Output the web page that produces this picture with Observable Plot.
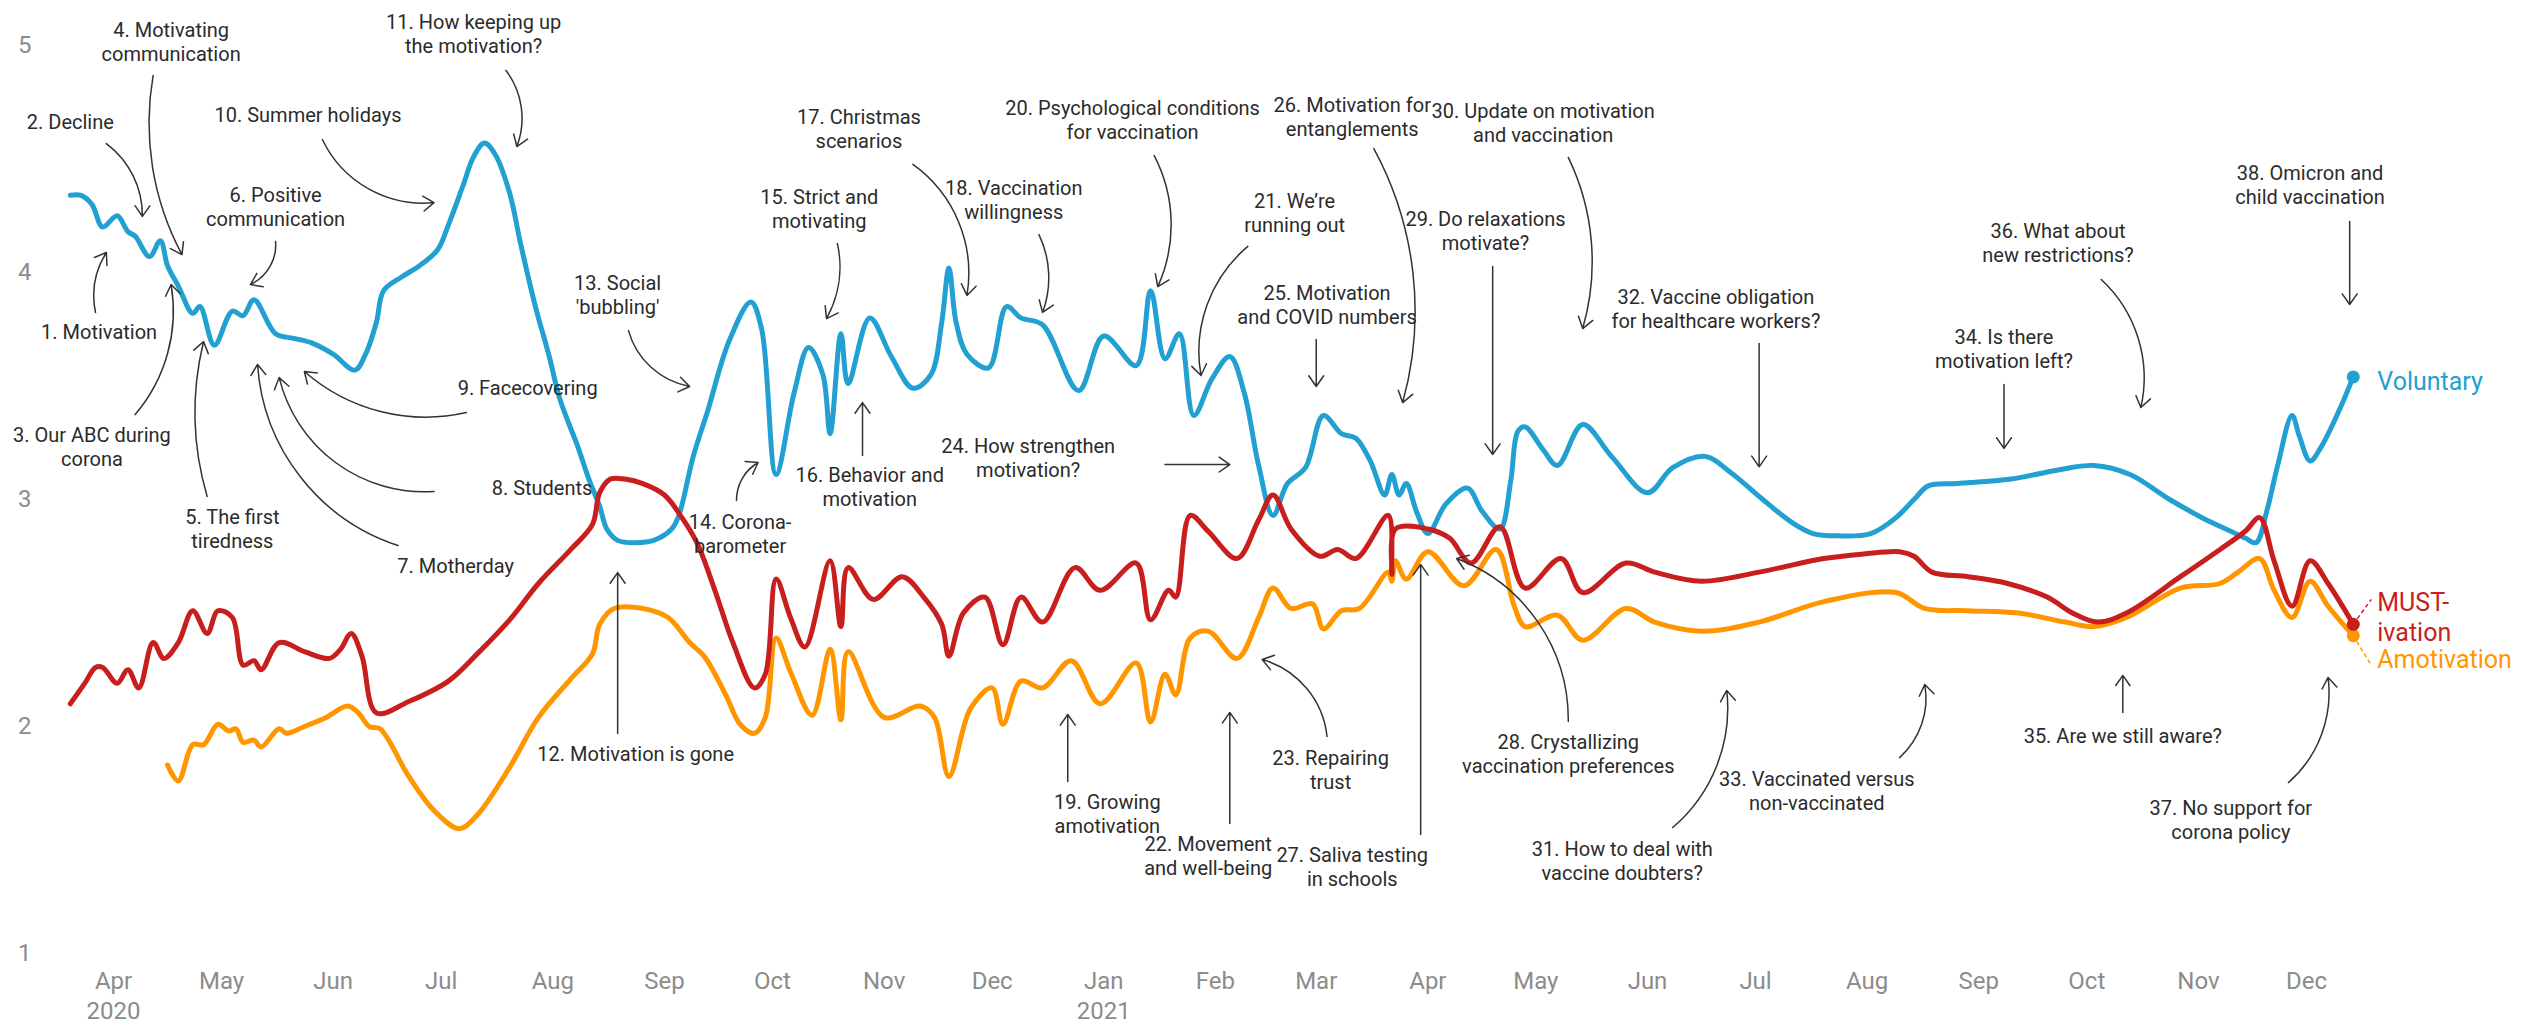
<!DOCTYPE html>
<html><head><meta charset="utf-8">
<script src="https://cdn.jsdelivr.net/npm/d3@7"></script>
<script src="https://cdn.jsdelivr.net/npm/@observablehq/plot@0.6"></script>
<style>html,body{margin:0;padding:0;background:#fff;} #chart{width:2525px;height:1029px;overflow:hidden}</style>
</head><body><div id="chart"></div>
<script>
const voluntary = [["2020-03-20",4.34],["2020-03-23",4.34],["2020-03-26",4.30],["2020-03-29",4.20],["2020-04-02",4.25],["2020-04-05",4.18],["2020-04-07",4.16],["2020-04-11",4.07],["2020-04-14",4.14],["2020-04-16",4.03],["2020-04-19",3.94],["2020-04-23",3.82],["2020-04-25",3.85],["2020-04-29",3.68],["2020-05-04",3.83],["2020-05-07",3.81],["2020-05-10",3.88],["2020-05-16",3.73],["2020-05-21",3.71],["2020-05-26",3.69],["2020-06-01",3.64],["2020-06-07",3.57],["2020-06-10",3.64],["2020-06-13",3.78],["2020-06-15",3.92],["2020-06-20",3.98],["2020-06-25",4.03],["2020-06-30",4.10],["2020-07-03",4.21],["2020-07-07",4.38],["2020-07-10",4.51],["2020-07-13",4.57],["2020-07-16",4.52],["2020-07-20",4.35],["2020-07-23",4.13],["2020-07-27",3.86],["2020-07-31",3.63],["2020-08-03",3.44],["2020-08-08",3.23],["2020-08-11",3.09],["2020-08-14",2.97],["2020-08-16",2.87],["2020-08-19",2.82],["2020-08-24",2.81],["2020-08-29",2.82],["2020-09-03",2.87],["2020-09-05",2.93],["2020-09-09",3.19],["2020-09-13",3.39],["2020-09-19",3.70],["2020-09-25",3.87],["2020-09-28",3.75],["2020-10-02",3.11],["2020-10-07",3.47],["2020-10-11",3.67],["2020-10-15",3.55],["2020-10-17",3.29],["2020-10-20",3.73],["2020-10-22",3.51],["2020-10-28",3.80],["2020-11-03",3.63],["2020-11-09",3.49],["2020-11-14",3.55],["2020-11-17",3.78],["2020-11-19",4.02],["2020-11-21",3.78],["2020-11-24",3.64],["2020-11-30",3.58],["2020-12-05",3.85],["2020-12-09",3.80],["2020-12-15",3.77],["2020-12-25",3.48],["2021-01-01",3.72],["2021-01-10",3.59],["2021-01-14",3.92],["2021-01-18",3.62],["2021-01-22",3.73],["2021-01-26",3.37],["2021-01-31",3.53],["2021-02-05",3.63],["2021-02-09",3.47],["2021-02-13",3.15],["2021-02-17",2.93],["2021-02-21",3.07],["2021-02-26",3.14],["2021-03-03",3.37],["2021-03-08",3.29],["2021-03-12",3.27],["2021-03-16",3.17],["2021-03-20",3.02],["2021-03-22",3.11],["2021-03-24",3.02],["2021-03-26",3.07],["2021-03-29",2.94],["2021-04-01",2.85],["2021-04-06",2.98],["2021-04-12",3.05],["2021-04-16",2.95],["2021-04-21",2.87],["2021-04-24",3.08],["2021-04-26",3.30],["2021-04-28",3.32],["2021-05-03",3.22],["2021-05-07",3.15],["2021-05-14",3.33],["2021-05-22",3.19],["2021-06-01",3.03],["2021-06-08",3.14],["2021-06-17",3.19],["2021-06-24",3.12],["2021-07-03",3.00],["2021-07-11",2.90],["2021-07-17",2.85],["2021-07-24",2.84],["2021-08-02",2.85],["2021-08-09",2.92],["2021-08-14",3.00],["2021-08-18",3.06],["2021-08-26",3.07],["2021-09-10",3.09],["2021-09-23",3.13],["2021-10-03",3.15],["2021-10-13",3.11],["2021-10-24",3.00],["2021-11-02",2.92],["2021-11-10",2.86],["2021-11-14",2.83],["2021-11-17",2.81],["2021-11-20",2.95],["2021-11-23",3.15],["2021-11-27",3.37],["2021-11-29",3.28],["2021-12-02",3.17],["2021-12-05",3.23],["2021-12-10",3.39],["2021-12-14",3.54]];

const mustivation = [["2020-03-20",2.10],["2020-03-24",2.19],["2020-03-27",2.26],["2020-03-29",2.26],["2020-04-02",2.19],["2020-04-05",2.25],["2020-04-08",2.17],["2020-04-12",2.37],["2020-04-15",2.30],["2020-04-19",2.37],["2020-04-23",2.51],["2020-04-27",2.41],["2020-04-30",2.51],["2020-05-04",2.48],["2020-05-07",2.27],["2020-05-10",2.29],["2020-05-12",2.25],["2020-05-17",2.37],["2020-05-24",2.33],["2020-05-31",2.30],["2020-06-03",2.34],["2020-06-06",2.41],["2020-06-09",2.31],["2020-06-13",2.06],["2020-06-22",2.11],["2020-07-03",2.20],["2020-07-11",2.32],["2020-07-20",2.47],["2020-07-28",2.63],["2020-08-06",2.78],["2020-08-12",2.89],["2020-08-14",3.03],["2020-08-17",3.09],["2020-08-21",3.09],["2020-08-26",3.07],["2020-09-01",3.02],["2020-09-05",2.94],["2020-09-10",2.81],["2020-09-15",2.60],["2020-09-20",2.37],["2020-09-26",2.17],["2020-09-29",2.23],["2020-10-02",2.65],["2020-10-06",2.48],["2020-10-10",2.35],["2020-10-17",2.73],["2020-10-20",2.44],["2020-10-22",2.70],["2020-10-29",2.56],["2020-11-06",2.66],["2020-11-12",2.57],["2020-11-17",2.45],["2020-11-19",2.31],["2020-11-23",2.50],["2020-11-29",2.57],["2020-12-04",2.36],["2020-12-09",2.57],["2020-12-15",2.46],["2020-12-24",2.70],["2020-12-31",2.60],["2021-01-10",2.72],["2021-01-14",2.47],["2021-01-19",2.60],["2021-01-21",2.57],["2021-01-25",2.93],["2021-01-30",2.86],["2021-02-07",2.74],["2021-02-13",2.91],["2021-02-17",3.02],["2021-02-22",2.87],["2021-03-02",2.75],["2021-03-07",2.78],["2021-03-12",2.74],["2021-03-21",2.93],["2021-03-22",2.67],["2021-03-23",2.87],["2021-04-01",2.87],["2021-04-07",2.83],["2021-04-13",2.72],["2021-04-21",2.88],["2021-04-28",2.61],["2021-05-08",2.74],["2021-05-14",2.59],["2021-05-26",2.72],["2021-06-03",2.68],["2021-06-16",2.64],["2021-07-02",2.68],["2021-07-20",2.74],["2021-07-31",2.76],["2021-08-10",2.77],["2021-08-14",2.75],["2021-08-19",2.68],["2021-08-29",2.66],["2021-09-09",2.63],["2021-09-20",2.57],["2021-09-27",2.50],["2021-10-04",2.46],["2021-10-12",2.50],["2021-10-27",2.66],["2021-11-07",2.78],["2021-11-14",2.86],["2021-11-18",2.92],["2021-11-22",2.73],["2021-11-27",2.53],["2021-12-02",2.73],["2021-12-07",2.63],["2021-12-14",2.45]];

const amotivation = [["2020-04-16",1.83],["2020-04-19",1.76],["2020-04-23",1.92],["2020-04-26",1.92],["2020-04-30",2.01],["2020-05-03",1.98],["2020-05-05",1.99],["2020-05-07",1.93],["2020-05-10",1.94],["2020-05-12",1.91],["2020-05-17",1.99],["2020-05-19",1.97],["2020-05-24",2.00],["2020-05-30",2.04],["2020-06-05",2.09],["2020-06-08",2.06],["2020-06-11",2.00],["2020-06-14",1.99],["2020-06-22",1.78],["2020-06-29",1.63],["2020-07-06",1.55],["2020-07-11",1.61],["2020-07-20",1.82],["2020-07-28",2.04],["2020-08-06",2.21],["2020-08-12",2.32],["2020-08-14",2.45],["2020-08-18",2.52],["2020-08-26",2.52],["2020-09-02",2.48],["2020-09-08",2.37],["2020-09-12",2.31],["2020-09-18",2.14],["2020-09-22",2.01],["2020-09-26",1.97],["2020-09-29",2.04],["2020-10-02",2.39],["2020-10-06",2.24],["2020-10-12",2.05],["2020-10-17",2.34],["2020-10-20",2.03],["2020-10-22",2.33],["2020-11-01",2.04],["2020-11-11",2.09],["2020-11-15",2.04],["2020-11-19",1.78],["2020-11-25",2.08],["2020-12-01",2.17],["2020-12-04",2.01],["2020-12-09",2.20],["2020-12-15",2.17],["2020-12-23",2.29],["2020-12-31",2.10],["2021-01-10",2.28],["2021-01-14",2.02],["2021-01-18",2.23],["2021-01-21",2.14],["2021-01-25",2.39],["2021-01-30",2.42],["2021-02-07",2.30],["2021-02-13",2.48],["2021-02-17",2.61],["2021-02-22",2.52],["2021-02-28",2.54],["2021-03-03",2.43],["2021-03-08",2.51],["2021-03-13",2.52],["2021-03-21",2.68],["2021-03-22",2.64],["2021-03-23",2.73],["2021-03-26",2.65],["2021-04-01",2.77],["2021-04-11",2.62],["2021-04-20",2.78],["2021-04-25",2.53],["2021-04-28",2.44],["2021-05-07",2.49],["2021-05-14",2.38],["2021-05-26",2.52],["2021-06-03",2.46],["2021-06-16",2.42],["2021-07-02",2.46],["2021-07-20",2.55],["2021-08-09",2.59],["2021-08-17",2.52],["2021-08-29",2.51],["2021-09-12",2.50],["2021-09-25",2.46],["2021-10-03",2.44],["2021-10-12",2.48],["2021-10-27",2.61],["2021-11-07",2.63],["2021-11-12",2.68],["2021-11-18",2.74],["2021-11-22",2.60],["2021-11-27",2.48],["2021-12-02",2.64],["2021-12-07",2.53],["2021-12-14",2.40]];

const yTicks = [1, 2, 3, 4, 5];
const monthTicks = d3.utcMonth.range(new Date("2020-04-01"), new Date("2022-01-01"));
const yearLabels = {"2020-04": "2020", "2021-01": "2021"};

// [text, date, value] — text block centres, in data coordinates
const notes = [
 ["1. Motivation", "2020-03-28", 3.74],
 ["2. Decline", "2020-03-20", 4.665],
 ["3. Our ABC during\ncorona", "2020-03-26", 3.233],
 ["4. Motivating\ncommunication", "2020-04-17", 5.018],
 ["5. The first\ntiredness", "2020-05-04", 2.872],
 ["6. Positive\ncommunication", "2020-05-16", 4.291],
 ["7. Motherday", "2020-07-05", 2.709],
 ["8. Students", "2020-07-29", 3.053],
 ["9. Facecovering", "2020-07-25", 3.493],
 ["10. Summer holidays", "2020-05-25", 4.696],
 ["11. How keeping up\nthe motivation?", "2020-07-10", 5.053],
 ["12. Motivation is gone", "2020-08-24", 1.881],
 ["13. Social\n'bubbling'", "2020-08-19", 3.903],
 ["14. Corona-\nbarometer", "2020-09-22", 2.85],
 ["15. Strict and\nmotivating", "2020-10-14", 4.282],
 ["16. Behavior and\nmotivation", "2020-10-28", 3.057],
 ["17. Christmas\nscenarios", "2020-10-25", 4.634],
 ["18. Vaccination\nwillingness", "2020-12-07", 4.322],
 ["19. Growing\namotivation", "2021-01-02", 1.617],
 ["20. Psychological conditions\nfor vaccination", "2021-01-09", 4.674],
 ["21. We\u2019re\nrunning out", "2021-02-23", 4.264],
 ["22. Movement\nand well-being", "2021-01-30", 1.432],
 ["23. Repairing\ntrust", "2021-03-05", 1.811],
 ["24. How strengthen\nmotivation?", "2020-12-11", 3.185],
 ["25. Motivation\nand COVID numbers", "2021-03-04", 3.859],
 ["26. Motivation for\nentanglements", "2021-03-11", 4.687],
 ["27. Saliva testing\nin schools", "2021-03-11", 1.383],
 ["28. Crystallizing\nvaccination preferences", "2021-05-10", 1.881],
 ["29. Do relaxations\nmotivate?", "2021-04-17", 4.185],
 ["30. Update on motivation\nand vaccination", "2021-05-03", 4.661],
 ["31. How to deal with\nvaccine doubters?", "2021-05-25", 1.41],
 ["32. Vaccine obligation\nfor healthcare workers?", "2021-06-20", 3.841],
 ["33. Vaccinated versus\nnon-vaccinated", "2021-07-18", 1.718],
 ["34. Is there\nmotivation left?", "2021-09-08", 3.665],
 ["35. Are we still aware?", "2021-10-11", 1.96],
 ["36. What about\nnew restrictions?", "2021-09-23", 4.132],
 ["37. No support for\ncorona policy", "2021-11-10", 1.59],
 ["38. Omicron and\nchild vaccination", "2021-12-02", 4.388]
];

// [date1, value1, date2, value2, bend]
const arrows = [
 ["2020-03-27",3.824,"2020-03-30",4.088,22],
 ["2020-03-30",4.568,"2020-04-09",4.247,27],
 ["2020-04-07",3.374,"2020-04-17",3.947,-25],
 ["2020-04-12",4.868,"2020-04-20",4.079,-19],
 ["2020-04-27",3.013,"2020-04-26",3.696,15],
 ["2020-05-16",4.137,"2020-05-09",3.947,35],
 ["2020-06-19",2.797,"2020-05-11",3.595,34],
 ["2020-06-29",3.035,"2020-05-17",3.537,40],
 ["2020-07-08",3.383,"2020-05-24",3.564,27],
 ["2020-05-29",4.586,"2020-06-29",4.308,-35],
 ["2020-07-19",4.89,"2020-07-22",4.555,29],
 ["2020-08-19",1.969,"2020-08-19",2.678,0],
 ["2020-08-22",3.744,"2020-09-08",3.498,-32],
 ["2020-09-21",2.996,"2020-09-27",3.163,30],
 ["2020-10-19",4.128,"2020-10-16",3.797,21],
 ["2020-10-26",3.194,"2020-10-26",3.427,0],
 ["2020-11-09",4.476,"2020-11-24",3.899,32],
 ["2020-12-14",4.167,"2020-12-15",3.824,23],
 ["2020-12-22",1.758,"2020-12-22",2.053,0],
 ["2021-01-15",4.515,"2021-01-16",3.938,26],
 ["2021-02-10",4.115,"2021-01-28",3.546,-30],
 ["2021-02-05",1.573,"2021-02-05",2.062,0],
 ["2021-03-04",1.956,"2021-02-14",2.295,-34],
 ["2021-01-18",3.154,"2021-02-05",3.154,0],
 ["2021-03-01",3.705,"2021-03-01",3.498,0],
 ["2021-03-17",4.546,"2021-03-25",3.427,22],
 ["2021-03-30",1.524,"2021-03-30",2.714,0],
 ["2021-05-10",2.022,"2021-04-09",2.74,-35],
 ["2021-04-19",4.026,"2021-04-19",3.198,0],
 ["2021-05-10",4.507,"2021-05-14",3.753,21],
 ["2021-06-08",1.555,"2021-06-23",2.159,-28],
 ["2021-07-02",3.687,"2021-07-02",3.144,0],
 ["2021-08-10",1.863,"2021-08-17",2.185,-29],
 ["2021-09-08",3.507,"2021-09-08",3.225,0],
 ["2021-10-11",2.062,"2021-10-11",2.225,0],
 ["2021-10-05",3.969,"2021-10-16",3.405,30],
 ["2021-11-26",1.753,"2021-12-07",2.216,-28],
 ["2021-12-13",4.225,"2021-12-13",3.859,0]
];

const C = {vol: "#23a0d2", must: "#c81e1e", amo: "#ff9600"};
const rowsOf = arr => arr.map(([d, v]) => ({date: new Date(d), value: v}));
const vol = rowsOf(voluntary), must = rowsOf(mustivation), amo = rowsOf(amotivation);
const lastV = vol[vol.length - 1], lastM = must[must.length - 1], lastA = amo[amo.length - 1];

const lineOpts = (stroke) => ({x: "date", y: "value", stroke, strokeWidth: 5, curve: "catmull-rom", strokeLinejoin: "round", strokeLinecap: "round"});

const chart = Plot.plot({
  width: 2525, height: 1029,
  marginTop: 45, marginBottom: 76, marginLeft: 34, marginRight: 0,
  style: {fontFamily: "Roboto, sans-serif", background: "white", overflow: "visible"},
  x: {type: "utc", domain: [new Date("2020-03-01"), new Date("2022-01-01")], range: [1.4, 2417.6]},
  y: {domain: [1, 5]},
  marks: [
    Plot.axisY({ticks: yTicks, tickFormat: d3.format("d"), tickSize: 0, tickPadding: 3, fontSize: 24, color: "#8c8c8c", label: null}),
    Plot.axisX({ticks: monthTicks, tickSize: 0, tickPadding: 14, fontSize: 24, color: "#8c8c8c", lineHeight: 1.25, label: null,
      tickFormat: d => d3.utcFormat("%b")(d) + (yearLabels[d3.utcFormat("%Y-%m")(d)] ? "\n" + yearLabels[d3.utcFormat("%Y-%m")(d)] : "")}),
    Plot.line(amo, lineOpts(C.amo)),
    Plot.line(vol, lineOpts(C.vol)),
    Plot.line(must, lineOpts(C.must)),
    Plot.dot([lastA], {x: "date", y: "value", r: 6.5, fill: C.amo}),
    Plot.dot([lastM], {x: "date", y: "value", r: 6.5, fill: C.must}),
    Plot.dot([lastV], {x: "date", y: "value", r: 6.5, fill: C.vol}),
    Plot.link([lastM], {x1: "date", y1: "value", x2: d => d3.utcDay.offset(d.date, 5), y2: d => d.value + 0.11, stroke: C.must, strokeWidth: 1.5, strokeDasharray: "4,3"}),
    Plot.link([lastA], {x1: "date", y1: "value", x2: d => d3.utcDay.offset(d.date, 5), y2: d => d.value - 0.13, stroke: C.amo, strokeWidth: 1.5, strokeDasharray: "4,3"}),
    Plot.text([lastV], {x: "date", y: "value", text: () => "Voluntary", dx: 24, dy: 5, textAnchor: "start", fill: C.vol, fontSize: 25}),
    Plot.text([lastM], {x: "date", y: "value", text: () => "MUST-\nivation", dx: 24, dy: -8, textAnchor: "start", fill: C.must, fontSize: 25, lineHeight: 1.2}),
    Plot.text([lastA], {x: "date", y: "value", text: () => "Amotivation", dx: 24, dy: 24, textAnchor: "start", fill: C.amo, fontSize: 25}),
    ...arrows.map(a => Plot.arrow([a], {x1: d => new Date(d[0]), y1: d => d[1], x2: d => new Date(d[2]), y2: d => d[3], bend: a[4], stroke: "#333", strokeWidth: 1.5, headLength: 13, headAngle: 70})),
    Plot.text(notes, {x: d => new Date(d[1]), y: d => d[2], text: d => d[0], fontSize: 20, lineHeight: 1.2, fill: "#2b2b2b", textAnchor: "middle"})
  ]
});
document.getElementById("chart").append(chart);
</script>
</body></html>
